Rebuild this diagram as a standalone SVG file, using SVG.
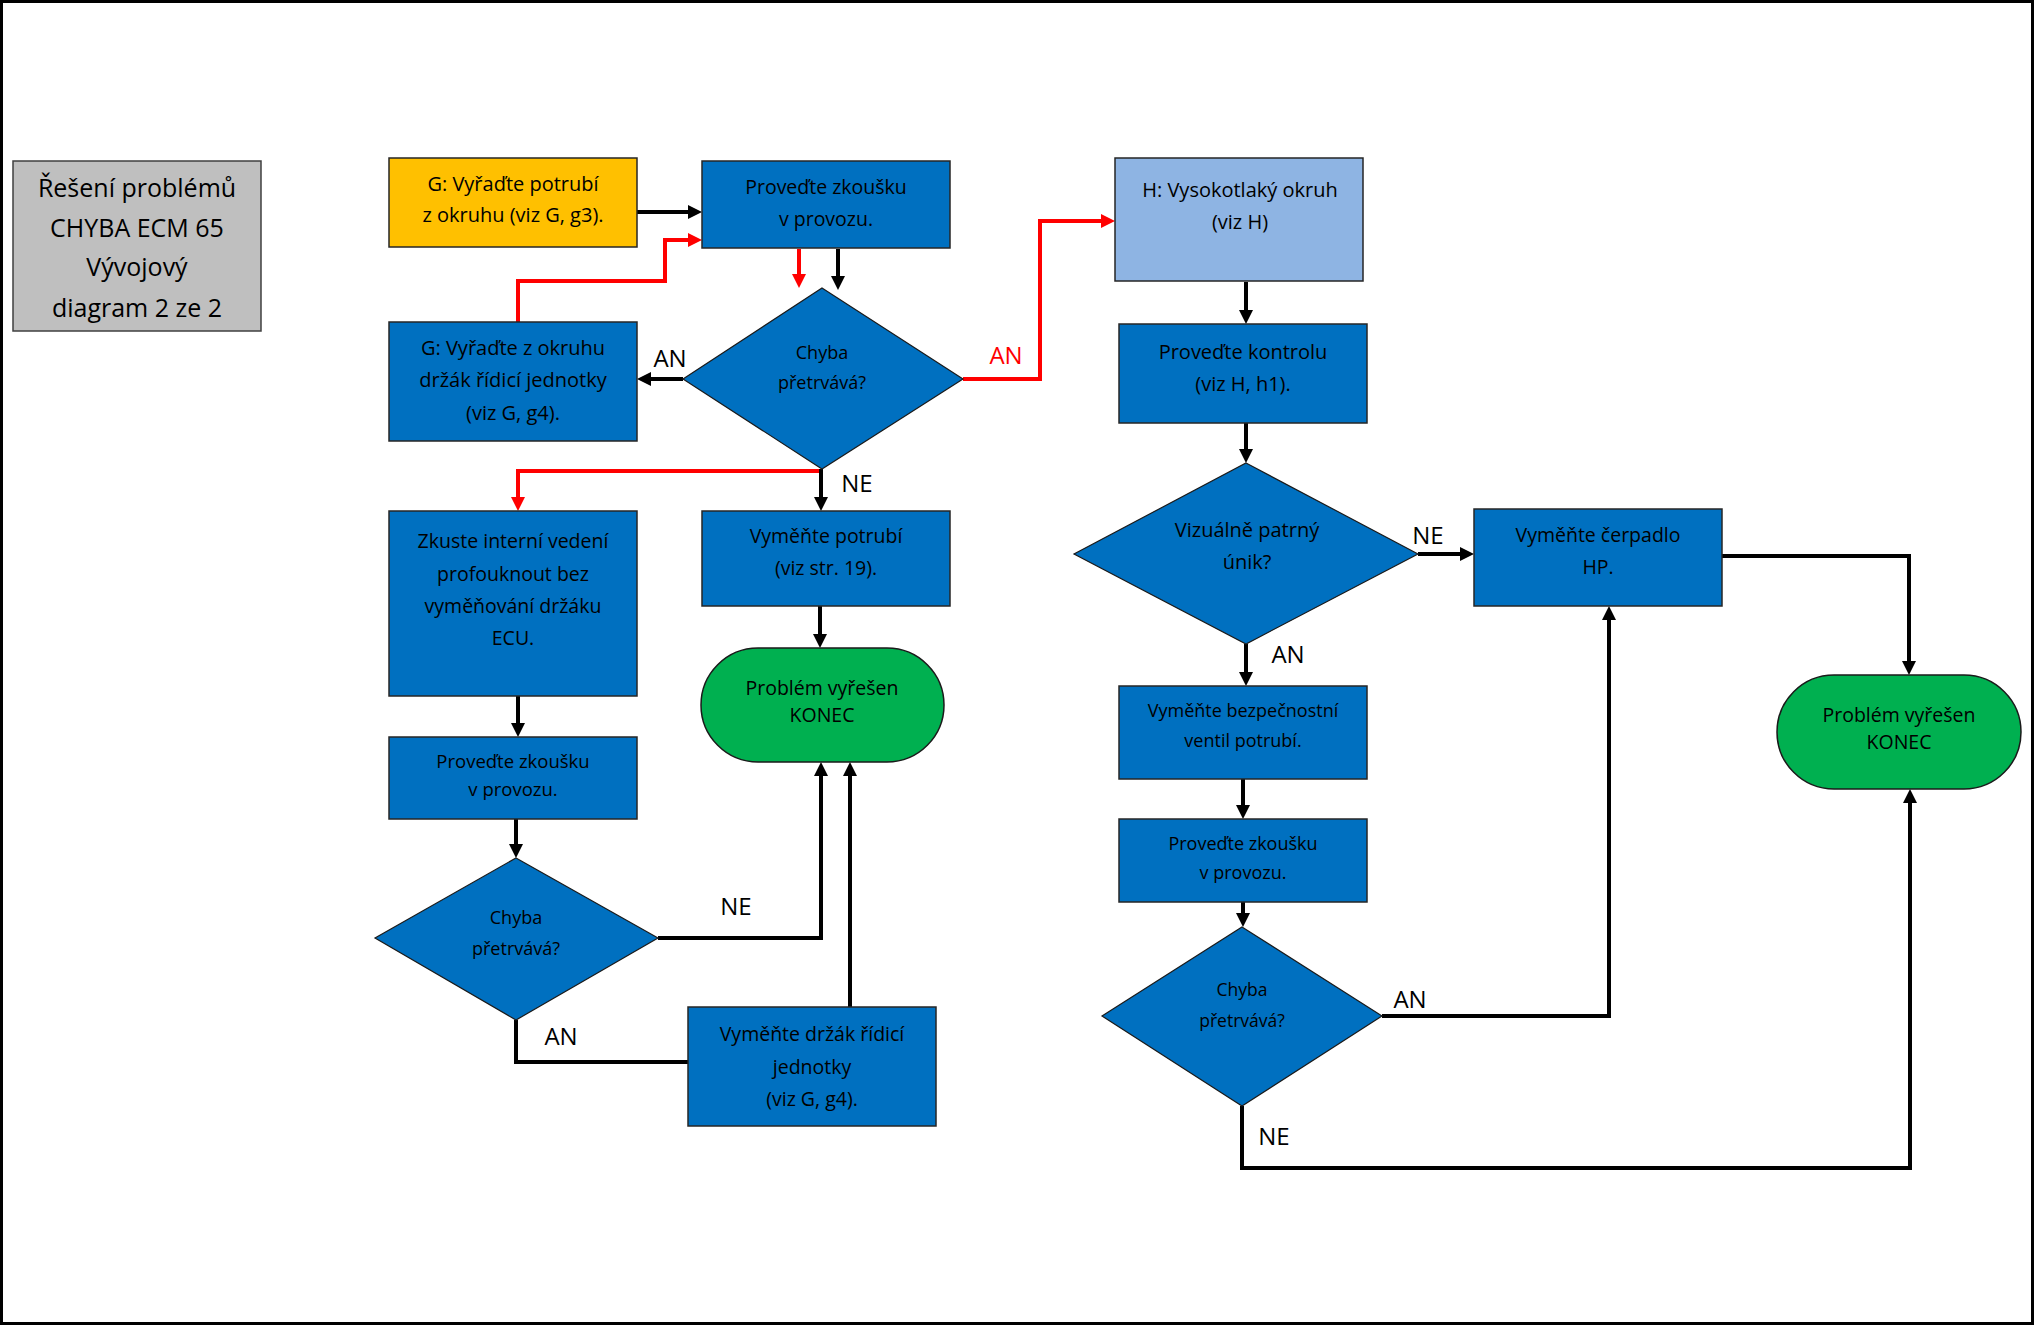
<svg xmlns="http://www.w3.org/2000/svg" width="2035" height="1326" viewBox="0 0 2035 1326">
<style>
text{font-family:"Open Sans","Liberation Sans",sans-serif;fill:#000;text-anchor:middle}
.box{fill:#0070C0;stroke:#262626;stroke-width:1.5}
.dia{fill:#0070C0;stroke:#1a1a1a;stroke-width:1.2}
.term{fill:#00B050;stroke:#1a1a1a;stroke-width:1.5}
.k{fill:none;stroke:#000;stroke-width:4}
.r{fill:none;stroke:#FF0000;stroke-width:4}
.lbl{font-size:24px}
.red{fill:#FF0000}
</style>
<defs>
<marker id="ak" viewBox="0 0 14 14" refX="0" refY="7" markerWidth="14" markerHeight="14" markerUnits="userSpaceOnUse" orient="auto"><path d="M0,0 L14,7 L0,14 Z" fill="#000"/></marker>
<marker id="ar" viewBox="0 0 14 14" refX="0" refY="7" markerWidth="14" markerHeight="14" markerUnits="userSpaceOnUse" orient="auto"><path d="M0,0 L14,7 L0,14 Z" fill="#FF0000"/></marker>
</defs>
<rect x="0" y="0" width="2035" height="1326" fill="#fff"/>
<rect x="1.5" y="1.5" width="2031" height="1322" fill="none" stroke="#000" stroke-width="3"/>

<g id="title">
<rect x="13" y="161" width="248" height="170" fill="#BFBFBF" stroke="#404040" stroke-width="1.5"/>
<text x="137" y="197" font-size="25">Řešení problémů</text>
<text x="137" y="237" font-size="25">CHYBA ECM 65</text>
<text x="137" y="276" font-size="25">Vývojový</text>
<text x="137" y="317" font-size="25">diagram 2 ze 2</text>
</g>

<g id="connectors">
<path class="k" d="M637,212 H688" marker-end="url(#ak)"/>
<path class="r" d="M518,322 V281 H665 V240 H688" marker-end="url(#ar)"/>
<path class="r" d="M799,249 V274" marker-end="url(#ar)"/>
<path class="k" d="M838,249 V276" marker-end="url(#ak)"/>
<path class="k" d="M683,379 H651" marker-end="url(#ak)"/>
<path class="r" d="M963,379 H1040 V221 H1101" marker-end="url(#ar)"/>
<path class="r" d="M822,471 H518 V497" marker-end="url(#ar)"/>
<path class="k" d="M821,469 V497" marker-end="url(#ak)"/>
<path class="k" d="M820,606 V634" marker-end="url(#ak)"/>
<path class="k" d="M518,696 V723" marker-end="url(#ak)"/>
<path class="k" d="M516,819 V844" marker-end="url(#ak)"/>
<path class="k" d="M658,938 H821 V776" marker-end="url(#ak)"/>
<path class="k" d="M516,1020 V1062 H688"/>
<path class="k" d="M850,1007 V776" marker-end="url(#ak)"/>
<path class="k" d="M1246,282 V310" marker-end="url(#ak)"/>
<path class="k" d="M1246,423 V449" marker-end="url(#ak)"/>
<path class="k" d="M1418,554 H1460" marker-end="url(#ak)"/>
<path class="k" d="M1246,644 V672" marker-end="url(#ak)"/>
<path class="k" d="M1243,779 V805" marker-end="url(#ak)"/>
<path class="k" d="M1243,902 V913" marker-end="url(#ak)"/>
<path class="k" d="M1382,1016 H1609 V620" marker-end="url(#ak)"/>
<path class="k" d="M1242,1106 V1168 H1910 V803" marker-end="url(#ak)"/>
<path class="k" d="M1722,556 H1909 V661" marker-end="url(#ak)"/>
<text class="lbl" x="670" y="367">AN</text>
<text class="lbl red" x="1006" y="364">AN</text>
<text class="lbl" x="857" y="492">NE</text>
<text class="lbl" x="736" y="915">NE</text>
<text class="lbl" x="561" y="1045">AN</text>
<text class="lbl" x="1428" y="544">NE</text>
<text class="lbl" x="1288" y="663">AN</text>
<text class="lbl" x="1410" y="1008">AN</text>
<text class="lbl" x="1274" y="1145">NE</text>
</g>

<g id="n_yellow">
<rect x="389" y="158" width="248" height="89" fill="#FFC000" stroke="#262626" stroke-width="1.5"/>
<text x="513" y="191" font-size="20">G: Vyřaďte potrubí</text>
<text x="513" y="222" font-size="20">z okruhu (viz G, g3).</text>
</g>

<g id="n_test1">
<rect class="box" x="702" y="161" width="248" height="87"/>
<text x="826" y="194" font-size="19.5">Proveďte zkoušku</text>
<text x="826" y="226" font-size="19.5">v provozu.</text>
</g>

<g id="n_dia1">
<polygon class="dia" points="822,288 963,379 822,469 683,379"/>
<text x="822" y="359" font-size="18">Chyba</text>
<text x="822" y="389" font-size="18">přetrvává?</text>
</g>

<g id="n_gholder">
<rect class="box" x="389" y="322" width="248" height="119"/>
<text x="513" y="355" font-size="20">G: Vyřaďte z okruhu</text>
<text x="513" y="387" font-size="20">držák řídicí jednotky</text>
<text x="513" y="420" font-size="20">(viz G, g4).</text>
</g>

<g id="n_hbox">
<rect x="1115" y="158" width="248" height="123" fill="#8EB4E3" stroke="#262626" stroke-width="1.5"/>
<text x="1240" y="197" font-size="20">H: Vysokotlaký okruh</text>
<text x="1240" y="229" font-size="20">(viz H)</text>
</g>

<g id="n_kontrola">
<rect class="box" x="1119" y="324" width="248" height="99"/>
<text x="1243" y="359" font-size="20">Proveďte kontrolu</text>
<text x="1243" y="391" font-size="20">(viz H, h1).</text>
</g>

<g id="n_dia2">
<polygon class="dia" points="1246,463 1418,554 1246,644 1074,554"/>
<text x="1247" y="537" font-size="20">Vizuálně patrný</text>
<text x="1247" y="569" font-size="20">únik?</text>
</g>

<g id="n_cerpadlo">
<rect class="box" x="1474" y="509" width="248" height="97"/>
<text x="1598" y="542" font-size="19.5">Vyměňte čerpadlo</text>
<text x="1598" y="574" font-size="19.5">HP.</text>
</g>

<g id="n_end2">
<rect class="term" x="1777" y="675" width="244" height="114" rx="57" ry="57"/>
<text x="1899" y="722" font-size="19.5">Problém vyřešen</text>
<text x="1899" y="749" font-size="19.5">KONEC</text>
</g>

<g id="n_ventil">
<rect class="box" x="1119" y="686" width="248" height="93"/>
<text x="1243" y="717" font-size="18">Vyměňte bezpečnostní</text>
<text x="1243" y="747" font-size="18">ventil potrubí.</text>
</g>

<g id="n_test3">
<rect class="box" x="1119" y="819" width="248" height="83"/>
<text x="1243" y="850" font-size="18">Proveďte zkoušku</text>
<text x="1243" y="879" font-size="18">v provozu.</text>
</g>

<g id="n_dia3">
<polygon class="dia" points="1242,927 1382,1016 1242,1106 1102,1016"/>
<text x="1242" y="996" font-size="17.5">Chyba</text>
<text x="1242" y="1027" font-size="17.5">přetrvává?</text>
</g>

<g id="n_zkuste">
<rect class="box" x="389" y="511" width="248" height="185"/>
<text x="513" y="548" font-size="19.5">Zkuste interní vedení</text>
<text x="513" y="581" font-size="19.5">profouknout bez</text>
<text x="513" y="613" font-size="19.5">vyměňování držáku</text>
<text x="513" y="645" font-size="19.5">ECU.</text>
</g>

<g id="n_test2">
<rect class="box" x="389" y="737" width="248" height="82"/>
<text x="513" y="768" font-size="18.5">Proveďte zkoušku</text>
<text x="513" y="796" font-size="18.5">v provozu.</text>
</g>

<g id="n_dia4">
<polygon class="dia" points="516,858 658,938 516,1020 375,938"/>
<text x="516" y="924" font-size="18">Chyba</text>
<text x="516" y="955" font-size="18">přetrvává?</text>
</g>

<g id="n_potrubi">
<rect class="box" x="702" y="511" width="248" height="95"/>
<text x="826" y="543" font-size="19.5">Vyměňte potrubí</text>
<text x="826" y="575" font-size="19.5">(viz str. 19).</text>
</g>

<g id="n_end1">
<rect class="term" x="701" y="648" width="243" height="114" rx="57" ry="57"/>
<text x="822" y="695" font-size="19.5">Problém vyřešen</text>
<text x="822" y="722" font-size="19.5">KONEC</text>
</g>

<g id="n_drzak">
<rect class="box" x="688" y="1007" width="248" height="119"/>
<text x="812" y="1041" font-size="19.5">Vyměňte držák řídicí</text>
<text x="812" y="1074" font-size="19.5">jednotky</text>
<text x="812" y="1106" font-size="19.5">(viz G, g4).</text>
</g>
</svg>
